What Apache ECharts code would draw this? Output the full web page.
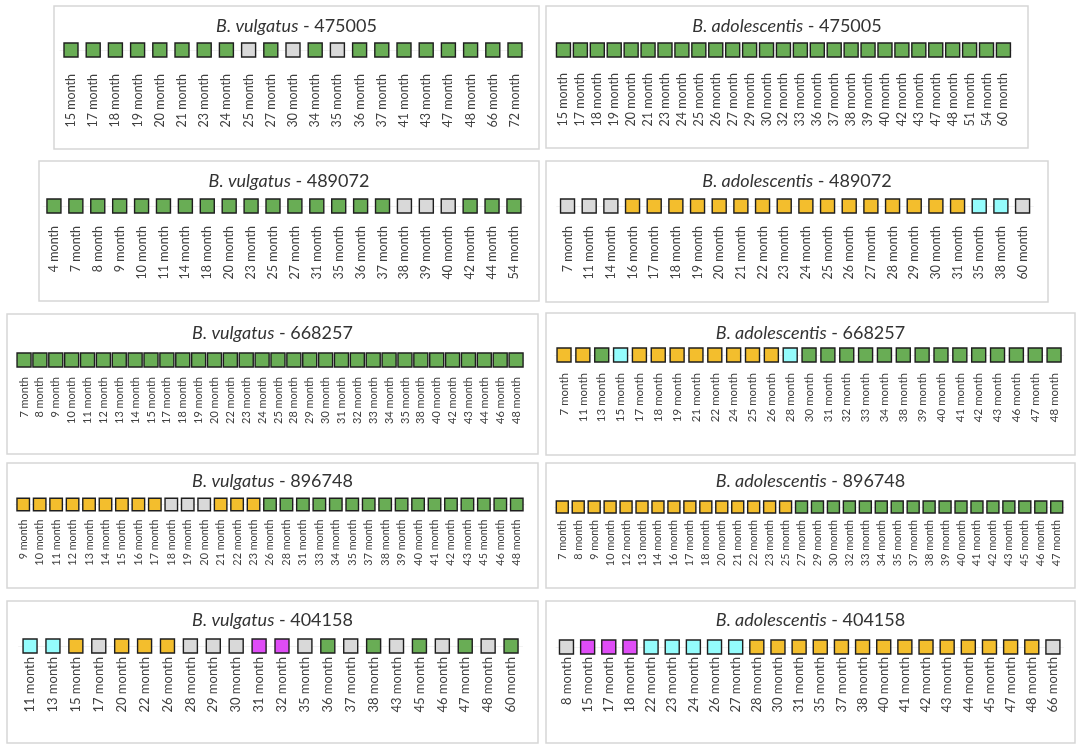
<!DOCTYPE html>
<html>
<head>
<meta charset="utf-8">
<script src="https://cdn.jsdelivr.net/npm/echarts@6/dist/echarts.min.js"></script>
<style>
  html, body { margin: 0; padding: 0; background: #fff; }
  #main { width: 1084px; height: 752px; }
</style>
</head>
<body>
<div id="main"></div>
<script>
// status codes: g = green, y = yellow, n = grey, c = cyan, m = magenta
var colorOf = { g: '#69ad55', y: '#f3be2d', n: '#d9d9d9', c: '#94fcfc', m: '#df4cf6' };

// B. vulgatus - 475005
var months1 = [15, 17, 18, 19, 20, 21, 23, 24, 25, 27, 30, 34, 35, 36, 37, 41, 43, 47, 48, 66, 72];
var status1 = ['g','g','g','g','g','g','g','g','n','g','n','g','n','g','g','g','g','g','g','g','g'];

// B. adolescentis - 475005
var months2 = [15, 17, 18, 19, 20, 21, 23, 24, 25, 26, 27, 29, 30, 32, 33, 36, 37, 38, 39, 40, 42, 43, 47, 48, 51, 54, 60];
var status2 = ['g','g','g','g','g','g','g','g','g','g','g','g','g','g','g','g','g','g','g','g','g','g','g','g','g','g','g'];

// B. vulgatus - 489072
var months3 = [4, 7, 8, 9, 10, 11, 14, 18, 20, 23, 25, 27, 31, 35, 36, 37, 38, 39, 40, 42, 44, 54];
var status3 = ['g','g','g','g','g','g','g','g','g','g','g','g','g','g','g','g','n','n','n','g','g','g'];

// B. adolescentis - 489072
var months4 = [7, 11, 14, 16, 17, 18, 19, 20, 21, 22, 23, 24, 25, 26, 27, 28, 29, 30, 31, 35, 38, 60];
var status4 = ['n','n','n','y','y','y','y','y','y','y','y','y','y','y','y','y','y','y','y','c','c','n'];

// B. vulgatus - 668257
var months5 = [7, 8, 9, 10, 11, 12, 13, 14, 15, 17, 18, 19, 20, 22, 23, 24, 25, 28, 29, 30, 31, 32, 33, 34, 35, 38, 40, 42, 43, 44, 46, 48];
var status5 = ['g','g','g','g','g','g','g','g','g','g','g','g','g','g','g','g','g','g','g','g','g','g','g','g','g','g','g','g','g','g','g','g'];

// B. adolescentis - 668257
var months6 = [7, 11, 13, 15, 17, 18, 19, 21, 22, 24, 25, 26, 28, 30, 31, 32, 33, 34, 38, 39, 40, 41, 42, 43, 46, 47, 48];
var status6 = ['y','y','g','c','y','y','y','y','y','y','y','y','c','g','g','g','g','g','g','g','g','g','g','g','g','g','g'];

// B. vulgatus - 896748
var months7 = [9, 10, 11, 12, 13, 14, 15, 16, 17, 18, 19, 20, 21, 22, 23, 26, 28, 31, 33, 34, 35, 37, 38, 39, 40, 41, 42, 43, 45, 46, 48];
var status7 = ['y','y','y','y','y','y','y','y','y','n','n','n','y','y','y','g','g','g','g','g','g','g','g','g','g','g','g','g','g','g','g'];

// B. adolescentis - 896748
var months8 = [7, 8, 9, 10, 12, 13, 14, 16, 17, 18, 20, 21, 22, 23, 25, 27, 29, 30, 32, 33, 34, 35, 37, 38, 39, 40, 41, 42, 43, 45, 46, 47];
var status8 = ['y','y','y','y','y','y','y','y','y','y','y','y','y','y','y','g','g','g','g','g','g','g','g','g','g','g','g','g','g','g','g','g'];

// B. vulgatus - 404158
var months9 = [11, 13, 15, 17, 20, 22, 26, 28, 29, 30, 31, 32, 35, 36, 37, 38, 43, 45, 46, 47, 48, 60];
var status9 = ['c','c','y','n','y','y','y','n','n','n','m','m','n','g','n','g','n','g','n','g','n','g'];

// B. adolescentis - 404158
var months10 = [8, 15, 17, 18, 22, 23, 24, 26, 27, 28, 30, 31, 35, 37, 38, 40, 41, 42, 43, 44, 45, 47, 48, 66];
var status10 = ['n','m','m','m','c','c','c','c','c','y','y','y','y','y','y','y','y','y','y','y','y','y','y','n'];

var panels = [
  { species: 'B. vulgatus', strain: '475005', months: months1, status: status1 },
  { species: 'B. adolescentis', strain: '475005', months: months2, status: status2 },
  { species: 'B. vulgatus', strain: '489072', months: months3, status: status3 },
  { species: 'B. adolescentis', strain: '489072', months: months4, status: status4 },
  { species: 'B. vulgatus', strain: '668257', months: months5, status: status5 },
  { species: 'B. adolescentis', strain: '668257', months: months6, status: status6 },
  { species: 'B. vulgatus', strain: '896748', months: months7, status: status7 },
  { species: 'B. adolescentis', strain: '896748', months: months8, status: status8 },
  { species: 'B. vulgatus', strain: '404158', months: months9, status: status9 },
  { species: 'B. adolescentis', strain: '404158', months: months10, status: status10 }
];

// layout per panel: frame box, title y, grid left/width, square centre y, square size,
// axis line offset below centre, label margin, label font size
var layout = [
  { box: [54, 6, 539, 149],    ty: 28,  left: 59.9,  width: 466.2, cy: 50,    sq: 14,   off: 15, margin: 9,  font: 12.5 },
  { box: [546, 6, 1028, 148],  ty: 28,  left: 555.0, width: 456.9, cy: 50,    sq: 14,   off: 15, margin: 8,  font: 12.5 },
  { box: [39, 161, 539, 301],  ty: 183, left: 43.0,  width: 481.9, cy: 206,   sq: 14,   off: 10, margin: 10, font: 12.5 },
  { box: [546, 161, 1048, 302],ty: 183, left: 556.7, width: 476.7, cy: 206,   sq: 14,   off: 10, margin: 10, font: 12.5 },
  { box: [7, 314, 538, 454],   ty: 335, left: 16.1,  width: 507.9, cy: 360,   sq: 14,   off: 10, margin: 7,  font: 11 },
  { box: [546, 313, 1075, 455],ty: 335, left: 554.6, width: 508.9, cy: 355,   sq: 14,   off: 10, margin: 8,  font: 11.5 },
  { box: [7, 463, 538, 588],   ty: 483, left: 15.0,  width: 510.0, cy: 504.5, sq: 12.5, off: 9,  margin: 6,  font: 10.8 },
  { box: [546, 463, 1075, 588],ty: 483, left: 554.3, width: 510.4, cy: 507,   sq: 12,   off: 8,  margin: 5,  font: 10.8 },
  { box: [7, 601, 538, 743],   ty: 622, left: 18.6,  width: 503.9, cy: 646,   sq: 14,   off: 8,  margin: 3,  font: 13 },
  { box: [546, 601, 1075, 743],ty: 622, left: 555.9, width: 507.6, cy: 647,   sq: 14,   off: 8,  margin: 2,  font: 13 }
];

var FONT = 'Lato';
var chart = echarts.init(document.getElementById('main'), null, { renderer: 'canvas' });

var titles = [], grids = [], xAxes = [], yAxes = [], series = [], frames = [];

panels.forEach(function (p, k) {
  var L = layout[k];
  var bx = L.box;
  frames.push({
    type: 'rect',
    shape: { x: bx[0], y: bx[1], width: bx[2] - bx[0], height: bx[3] - bx[1] },
    style: { fill: 'none', stroke: '#d6d6d6', lineWidth: 1.5 },
    silent: true
  });
  titles.push({
    text: '{i|' + p.species + '}{n| - ' + p.strain + '}',
    left: (bx[0] + bx[2]) / 2,
    top: L.ty - 11,
    textAlign: 'center',
    padding: 0,
    textStyle: {
      fontWeight: 'normal',
      rich: {
        i: { fontFamily: FONT, fontSize: 18, fontStyle: 'italic', fontWeight: 'normal', color: '#333' },
        n: { fontFamily: FONT, fontSize: 18, fontWeight: 'normal', color: '#333' }
      }
    }
  });
  var h = L.off * 2;
  grids.push({ left: L.left, width: L.width, top: L.cy - L.off, height: h });
  xAxes.push({
    gridIndex: k,
    type: 'category',
    data: p.months.map(function (m) { return m + ' month'; }),
    axisTick: { show: false },
    axisLine: { show: true, lineStyle: { color: '#f2f2f2', width: 1 } },
    axisLabel: {
      interval: 0, rotate: 90, margin: L.margin,
      fontFamily: FONT, fontSize: L.font, color: '#404040'
    }
  });
  yAxes.push({ gridIndex: k, type: 'value', min: -1, max: 1, show: false });
  series.push({
    type: 'scatter',
    xAxisIndex: k,
    yAxisIndex: k,
    symbol: 'rect',
    symbolSize: L.sq,
    silent: true,
    data: p.status.map(function (s, i) {
      return { value: [i, 0], itemStyle: { color: colorOf[s] } };
    }),
    itemStyle: { borderColor: '#1e1e1e', borderWidth: 1.4, opacity: 1 }
  });
});

chart.setOption({
  animation: false,
  backgroundColor: '#fff',
  title: titles,
  grid: grids,
  xAxis: xAxes,
  yAxis: yAxes,
  series: series,
  graphic: { elements: frames }
});
</script>
</body>
</html>
